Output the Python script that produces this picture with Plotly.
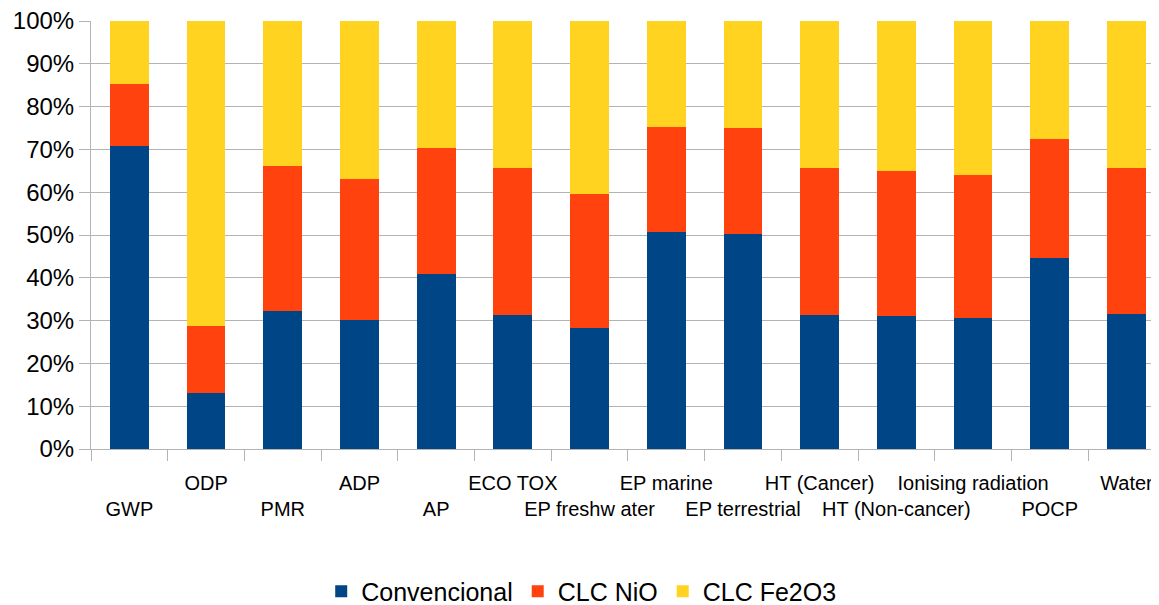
import plotly.graph_objects as go

categories = ["GWP", "ODP", "PMR", "ADP", "AP", "ECO TOX", "EP freshwater", "EP marine",
              "EP terrestrial", "HT (Cancer)", "HT (Non-cancer)", "Ionising radiation", "POCP", "Water"]
tick_labels = ["GWP", "ODP", "PMR", "ADP", "AP", "ECO TOX", "EP freshw ater", "EP marine",
               "EP terrestrial", "HT (Cancer)", "HT (Non-cancer)", "Ionising radiation", "POCP", "Water"]
convencional = [70.9, 13.1, 32.2, 30.1, 40.9, 31.3, 28.3, 50.7, 50.2, 31.3, 31.1, 30.6, 44.6, 31.5]
clc_nio = [14.4, 15.6, 33.9, 32.9, 29.4, 34.3, 31.3, 24.5, 24.8, 34.3, 33.9, 33.4, 27.8, 34.1]
clc_fe2o3 = [14.7, 71.3, 33.9, 37.0, 29.7, 34.4, 40.4, 24.8, 25.0, 34.4, 35.0, 36.0, 27.6, 34.4]
y_ticks = [0, 10, 20, 30, 40, 50, 60, 70, 80, 90, 100]
y_tick_text = [f"{v}%" for v in y_ticks]

font = "Liberation Sans, Arial, sans-serif"
grid = "#b3b3b3"

# staggered category labels: even index on lower row
ticktext = [("<br>" + t) if i % 2 == 0 else t for i, t in enumerate(tick_labels)]

fig = go.Figure()
for name, vals, col in [("Convencional", convencional, "#004586"),
                        ("CLC NiO", clc_nio, "#ff420e"),
                        ("CLC Fe2O3", clc_fe2o3, "#ffd320")]:
    fig.add_trace(go.Bar(x=categories, y=vals, name=name, marker=dict(color=col, line=dict(width=0))))

fig.update_layout(
    barmode="stack",
    barnorm="percent",
    bargap=0.495,
    width=1151, height=597,
    margin=dict(l=83, r=0, t=13, b=156, autoexpand=False),
    plot_bgcolor="white", paper_bgcolor="white",
    font=dict(family=font, color="black"),
    legend=dict(orientation="h", x=0.459, xanchor="center", y=-0.333, yanchor="middle",
                font=dict(size=25), traceorder="normal", itemwidth=30),
    showlegend=True,
)
fig.update_xaxes(
    tickmode="array", tickvals=categories, ticktext=ticktext,
    tickson="boundaries", ticks="outside", ticklen=11, tickcolor=grid,
    showline=True, linecolor=grid, linewidth=1,
    tickfont=dict(size=20), tickangle=0, automargin=False,
    ticklabelstandoff=16, ticklabeloverflow="allow",
    range=[-0.5, 13.424],
)
fig.update_yaxes(
    range=[0, 100], tickmode="array", tickvals=y_ticks, ticktext=y_tick_text,
    showgrid=True, gridcolor=grid, gridwidth=1,
    ticks="outside", ticklen=11, tickcolor=grid,
    showline=True, linecolor=grid, linewidth=1,
    tickfont=dict(size=24), zeroline=False, automargin=False,
    ticklabeloverflow="allow",
)
fig.write_html("out.html")
